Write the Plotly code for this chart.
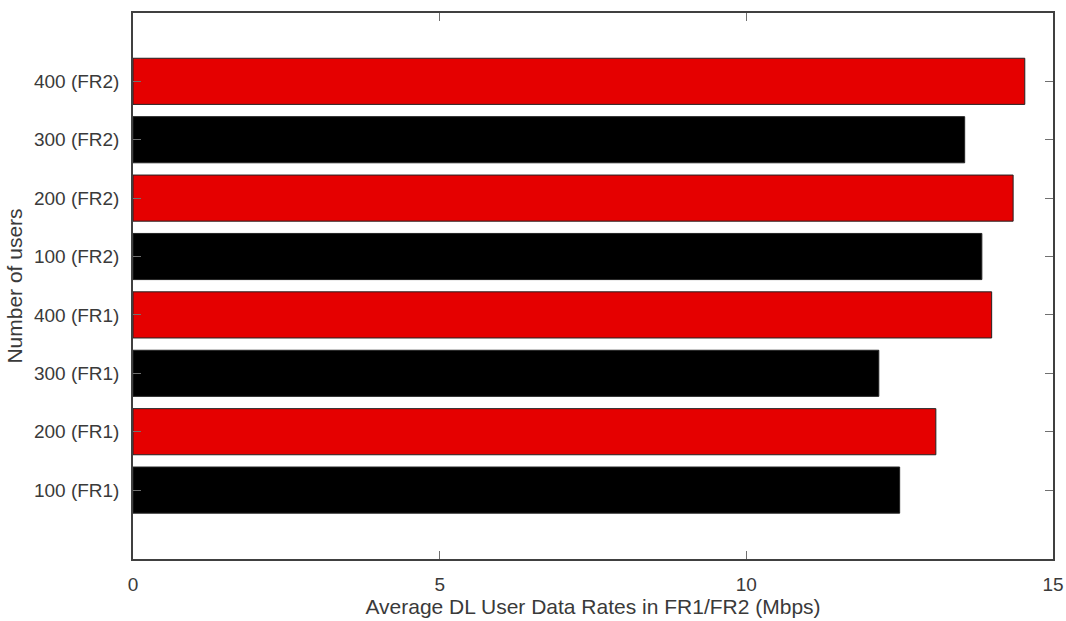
import plotly.graph_objects as go

# Average DL user data rates per user count and frequency range
categories = ["100 (FR1)", "200 (FR1)", "300 (FR1)", "400 (FR1)",
              "100 (FR2)", "200 (FR2)", "300 (FR2)", "400 (FR2)"]
rates_mbps = [12.50, 13.09, 12.16, 14.00, 13.84, 14.35, 13.56, 14.54]
bar_colors = ["#000000", "#e50000", "#000000", "#e50000",
              "#000000", "#e50000", "#000000", "#e50000"]
x_ticks = [0, 5, 10, 15]

FONT = "Liberation Sans, Arial, Helvetica, sans-serif"
AXIS_COLOR = "#404040"
TEXT_COLOR = "#3a3a3a"

fig = go.Figure(
    go.Bar(
        x=rates_mbps,
        y=list(range(len(categories))),
        orientation="h",
        width=0.79,
        marker=dict(color=bar_colors, line=dict(color="#222222", width=1)),
        hoverinfo="x",
    )
)

fig.update_layout(
    width=1066,
    height=621,
    margin=dict(l=133, r=13, t=13, b=62, autoexpand=False),
    paper_bgcolor="white",
    plot_bgcolor="white",
    showlegend=False,
    font=dict(family=FONT, color=TEXT_COLOR, size=19),
)

fig.update_xaxes(
    range=[0, 15],
    tickvals=x_ticks,
    ticktext=[str(v) for v in x_ticks],
    ticks="inside",
    ticklen=8,
    tickcolor="#707070",
    tickwidth=1,
    showline=True,
    linecolor=AXIS_COLOR,
    linewidth=1.5,
    mirror="allticks",
    showgrid=False,
    zeroline=False,
    automargin=False,
    tickfont=dict(size=19, color=TEXT_COLOR),
    ticklabelstandoff=7,
    title=dict(text="Average DL User Data Rates in FR1/FR2 (Mbps)",
               font=dict(size=21, color=TEXT_COLOR), standoff=6),
)

fig.update_yaxes(
    range=[-1.18, 8.17],
    tickvals=list(range(len(categories))),
    ticktext=categories,
    ticks="inside",
    ticklen=8,
    tickcolor="#707070",
    tickwidth=1,
    showline=True,
    linecolor=AXIS_COLOR,
    linewidth=1.5,
    mirror="allticks",
    showgrid=False,
    zeroline=False,
    automargin=False,
    tickfont=dict(size=19, color=TEXT_COLOR),
    ticklabelstandoff=8,
    title=dict(text="Number of users", font=dict(size=21, color=TEXT_COLOR), standoff=6),
)

fig.write_html("out.html")
